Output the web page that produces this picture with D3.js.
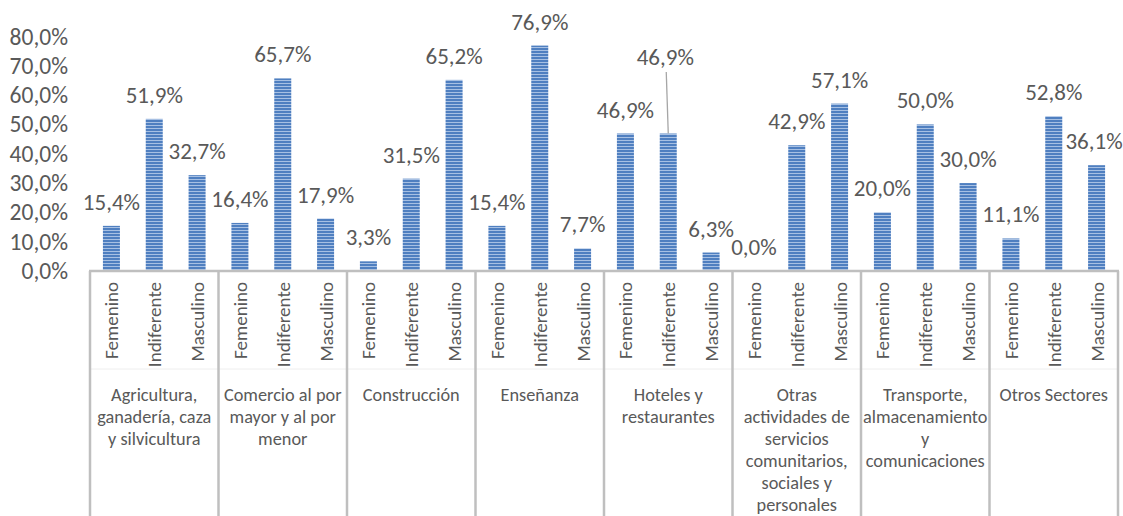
<!DOCTYPE html>
<html>
  <head>
    <meta http-equiv="Content-Type" content="text/html;charset=utf-8">
    <title>sectores</title>
    <script type="text/javascript" src="https://cdn.jsdelivr.net/npm/d3@7"></script>
    <style type="text/css">
body {
    margin: 0;
    background: #fff;
}
text {
    font-family: Calibri, Carlito, "Liberation Sans", sans-serif;
    fill: #595959;
}
.tick text {
    font-size: 23.5px;
}
.value {
    font-size: 23px;
}
.sub {
    font-size: 19px;
}
.group {
    font-size: 18.3px;
}
.sep {
    stroke: #bfbfbf;
    stroke-width: 2.5;
}
    </style>
  </head>
  <body>
    <script type="text/javascript">
// sectors (label lines as drawn under each group)
var sectors = [
  ["Agricultura,", "ganadería, caza", "y silvicultura"],
  ["Comercio al por", "mayor y al por", "menor"],
  ["Construcción"],
  ["Enseñanza"],
  ["Hoteles y", "restaurantes"],
  ["Otras", "actividades de", "servicios", "comunitarios,", "sociales y", "personales"],
  ["Transporte,", "almacenamiento", "y", "comunicaciones"],
  ["Otros Sectores"]
];
var genders = ["Femenino", "Indiferente", "Masculino"];

var femenino    = [0.154, 0.164, 0.033, 0.154, 0.469, 0.000, 0.200, 0.111];
var indiferente = [0.519, 0.657, 0.315, 0.769, 0.469, 0.429, 0.500, 0.528];
var masculino   = [0.327, 0.179, 0.652, 0.077, 0.063, 0.571, 0.300, 0.361];

var yTicks = [0, 0.1, 0.2, 0.3, 0.4, 0.5, 0.6, 0.7, 0.8];

var width = 1123,
    height = 516;

var es = d3.formatLocale({decimal: ",", thousands: ".", grouping: [3], currency: ["", "€"]});
var pct = es.format(".1%");

var rows = [];
sectors.forEach(function(s, i) {
  [femenino, indiferente, masculino].forEach(function(arr, j) {
    rows.push({sector: i, gender: genders[j], value: arr[i]});
  });
});

var svg = d3.select("body")
  .append("svg")
  .attr("width", width)
  .attr("height", height);

var defs = svg.append("defs");
var pat = defs.append("pattern")
  .attr("id", "stripes")
  .attr("patternUnits", "userSpaceOnUse")
  .attr("width", 4)
  .attr("height", 3);
pat.append("rect").attr("width", 4).attr("height", 3).attr("fill", "#a7c0e3");
pat.append("rect").attr("width", 4).attr("height", 2).attr("fill", "#4f7fc0");

var x0 = d3.scaleBand()
  .domain(d3.range(sectors.length))
  .range([90, 1118]);

var x1 = d3.scaleBand()
  .domain(genders)
  .range([0, x0.bandwidth()]);

var y = d3.scaleLinear()
  .domain([0, 0.8])
  .range([271, 36.5]);

var barW = 17;

// y axis (labels only)
var yAxis = svg.append("g")
  .attr("transform", "translate(68,0)")
  .call(d3.axisLeft(y).tickValues(yTicks).tickFormat(pct).tickSize(0).tickPadding(0));
yAxis.select(".domain").remove();
yAxis.selectAll(".tick text")
  .attr("fill", "#595959")
  .style("font-family", null);
yAxis.attr("font-size", null).attr("font-family", null);

// bars
svg.append("g")
  .selectAll("rect")
  .data(rows)
  .join("rect")
  .attr("x", function(d) { return x0(d.sector) + x1(d.gender) + x1.bandwidth() / 2 - barW / 2; })
  .attr("y", function(d) { return y(d.value); })
  .attr("width", barW)
  .attr("height", function(d) { return y(0) - y(d.value); })
  .attr("fill", "url(#stripes)");

// value labels
var moved = {sector: 4, gender: "Indiferente"};
svg.append("g")
  .selectAll("text")
  .data(rows)
  .join("text")
  .attr("class", "value")
  .attr("text-anchor", "middle")
  .attr("x", function(d) {
    var cx = x0(d.sector) + x1(d.gender) + x1.bandwidth() / 2;
    if (d.sector === moved.sector && d.gender === moved.gender) return cx - 3;
    return Math.min(cx, 1094);
  })
  .attr("y", function(d) {
    if (d.sector === moved.sector && d.gender === moved.gender) return 65;
    return y(d.value) - 16;
  })
  .text(function(d) { return pct(d.value); });

// leader line for the moved label
var mv = rows.filter(function(d) { return d.sector === moved.sector && d.gender === moved.gender; })[0];
var mx = x0(mv.sector) + x1(mv.gender) + x1.bandwidth() / 2;
svg.append("line")
  .attr("x1", mx - 2).attr("y1", 72)
  .attr("x2", mx).attr("y2", y(mv.value))
  .attr("stroke", "#a6a6a6")
  .attr("stroke-width", 1.3);

// faint line between the two label rows
svg.append("line")
  .attr("x1", 90).attr("x2", 1118)
  .attr("y1", 369).attr("y2", 369)
  .attr("stroke", "#eeeeee")
  .attr("stroke-width", 1);

// axis line and group separators
svg.append("line")
  .attr("class", "sep")
  .attr("x1", 89).attr("x2", 1119)
  .attr("y1", y(0)).attr("y2", y(0));

svg.append("g")
  .selectAll("line")
  .data(d3.range(sectors.length + 1))
  .join("line")
  .attr("class", "sep")
  .attr("x1", function(i) { return i < sectors.length ? x0(i) : x0.range()[1]; })
  .attr("x2", function(i) { return i < sectors.length ? x0(i) : x0.range()[1]; })
  .attr("y1", y(0))
  .attr("y2", height);

// gender labels (rotated)
svg.append("g")
  .selectAll("text")
  .data(rows)
  .join("text")
  .attr("class", "sub")
  .attr("text-anchor", "end")
  .attr("transform", function(d) {
    var cx = x0(d.sector) + x1(d.gender) + x1.bandwidth() / 2;
    return "translate(" + (cx + 7) + ",282) rotate(-90)";
  })
  .text(function(d) { return d.gender; });

// sector labels
var groups = svg.append("g")
  .selectAll("text")
  .data(sectors)
  .join("text")
  .attr("class", "group")
  .attr("text-anchor", "middle")
  .attr("x", function(d, i) { return x0(i) + x0.bandwidth() / 2; });

groups.selectAll("tspan")
  .data(function(d) { return d; })
  .join("tspan")
  .attr("x", function() { return d3.select(this.parentNode).attr("x"); })
  .attr("y", function(d, k) { return 401 + k * 22; })
  .text(function(d) { return d; });
    </script>
  </body>
</html>
